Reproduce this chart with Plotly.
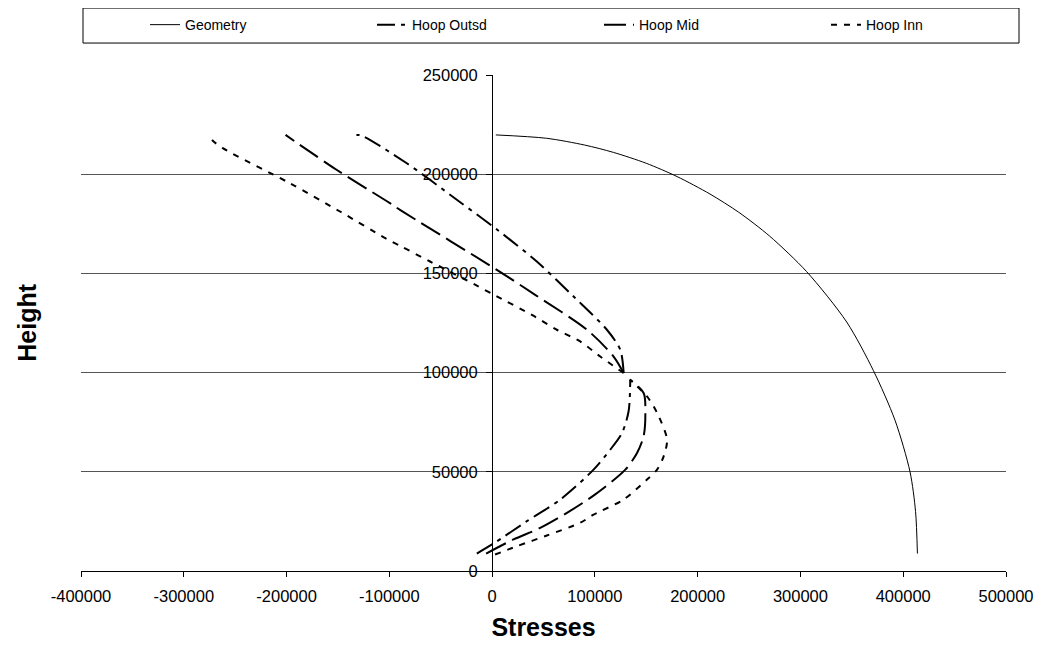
import plotly.graph_objects as go

# ---- data ----
geom_x = [3600, 53000, 90000, 118000, 150000, 180000, 212000, 240000, 270000, 306000,
          345000, 371000, 392000, 406600, 412000, 413800]
geom_y = [219800, 218100, 214700, 211000, 205500, 198800, 190000, 180800, 168800, 150900,
          125500, 101000, 76000, 50000, 30000, 8800]

# Hoop stresses: lower shell part, then (break) upper shell part
outsd_x = [-14900, 1300, 33800, 66300, 98700, 115000, 126400, 132800, 134400,
           None,
           128000, 124700, 111700, 80000, 43500, 5000, -34000, -83000, -127000, -132000]
outsd_y = [8800, 13800, 25100, 36000, 51100, 61200, 69600, 80500, 96400,
           None,
           99800, 111500, 121600, 138000, 156000, 172000, 187000, 205500, 219500, 219800]

mid_x = [-5800, 20800, 46800, 72800, 100000, 129600, 141000, 147400, 149100, 147400, 134000,
         None,
         128000, 118200, 92300, 41900, 4600, -89600, -99400, -151000, -201000]
mid_y = [8800, 15900, 21700, 29300, 38500, 51100, 59500, 67900, 78800, 89700, 96500,
         None,
         99800, 108100, 121600, 139200, 151800, 182000, 185400, 202100, 219800]

inn_x = [2900, 24100, 53300, 85700, 98700, 127900, 150700, 160500, 166900, 170200, 160500, 150700, 134000,
         None,
         128000, 105200, 85700, 63000, 38700, 4600, -16600, -60400, -88000, -104000, -148000,
         -197000, -262000, -272000, -276000]
inn_y = [8300, 12500, 17900, 24300, 28400, 36000, 46100, 51100, 57800, 66200, 79700, 88000, 96500,
         None,
         99800, 108100, 115700, 121600, 129100, 138400, 144300, 156000, 163500, 167800, 181200,
         195500, 213100, 217000, 219800]

x_ticks = [-400000, -300000, -200000, -100000, 0, 100000, 200000, 300000, 400000, 500000]
y_ticks = [0, 50000, 100000, 150000, 200000, 250000]

FONT = "Arial, Liberation Sans, sans-serif"

fig = go.Figure()
fig.add_trace(go.Scatter(x=geom_x, y=geom_y, mode="lines", name="Geometry",
                         line=dict(color="black", width=1, shape="spline", smoothing=0.8)))
fig.add_trace(go.Scatter(x=outsd_x, y=outsd_y, mode="lines", name="Hoop Outsd",
                         connectgaps=False,
                         line=dict(color="black", width=2, dash="18px,6px,4px,6px",
                                   shape="spline", smoothing=0.8)))
fig.add_trace(go.Scatter(x=mid_x, y=mid_y, mode="lines", name="Hoop Mid",
                         connectgaps=False,
                         line=dict(color="black", width=2, dash="22px,7px",
                                   shape="spline", smoothing=0.8)))
fig.add_trace(go.Scatter(x=inn_x, y=inn_y, mode="lines", name="Hoop Inn",
                         connectgaps=False,
                         line=dict(color="black", width=2, dash="6px,7px",
                                   shape="spline", smoothing=0.8)))

# page has an 8px body margin; size the figure to fit the window
OFF = 8
W, H = 1042 - 2 * OFF, 653 - 2 * OFF
# target plot area in page pixels: x 81..1006, y 75..571.5
L = 81 - OFF
R = W + OFF - 1006
T = 75 - OFF
B = H + OFF - 571.5
pw = W - L - R
ph = H - T - B

def px_x(p):
    return (p - OFF - L) / pw

def px_y(p):
    return (H + OFF - B - p) / ph

fig.update_layout(
    width=W, height=H,
    margin=dict(l=L, r=R, t=T, b=B, autoexpand=False),
    paper_bgcolor="white", plot_bgcolor="white",
    font=dict(family=FONT, size=14, color="black"),
    showlegend=True,
    legend=dict(orientation="h", x=px_x(145), xanchor="left", y=px_y(25), yanchor="middle",
                bgcolor="rgba(0,0,0,0)", borderwidth=0,
                entrywidth=182, entrywidthmode="pixels",
                font=dict(family=FONT, size=14), traceorder="normal"),
    xaxis=dict(range=[-400000, 500000], tickvals=x_ticks,
               ticktext=[str(v) for v in x_ticks],
               showgrid=False, zeroline=False,
               showline=True, linecolor="black", linewidth=1,
               ticks="outside", ticklen=5, tickcolor="black",
               ticklabelstandoff=5, ticklabeloverflow="allow",
               tickfont=dict(family=FONT, size=16.5),
               title=dict(text="<b>Stresses</b>", font=dict(family=FONT, size=25), standoff=14)),
    yaxis=dict(range=[0, 250000], tickvals=y_ticks,
               ticktext=[str(v) for v in y_ticks],
               anchor="free", position=px_x(492),
               showgrid=True, gridcolor="#555555", gridwidth=1,
               zeroline=False,
               showline=True, linecolor="black", linewidth=1,
               ticks="outside", ticklen=6, tickcolor="black",
               ticklabelstandoff=5,
               tickfont=dict(family=FONT, size=16.5)),
    shapes=[dict(type="rect", xref="paper", yref="paper",
                 x0=px_x(83), x1=px_x(1019), y0=px_y(43), y1=px_y(8),
                 line=dict(color="black", width=1), fillcolor="rgba(0,0,0,0)")],
    annotations=[dict(text="<b>Height</b>", xref="paper", yref="paper",
                      x=px_x(27), y=px_y(323), textangle=-90, showarrow=False,
                      font=dict(family=FONT, size=25), xanchor="center", yanchor="middle")],
)

fig.write_html("out.html")
